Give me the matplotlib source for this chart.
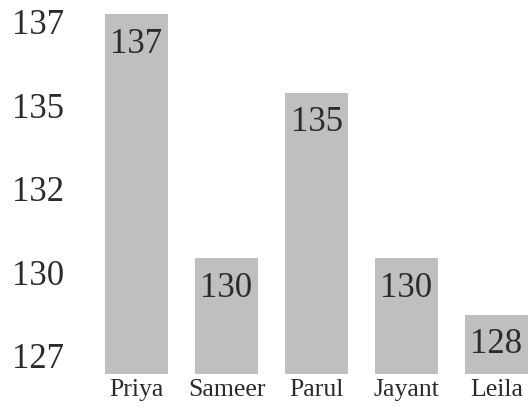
import matplotlib
matplotlib.use('Agg')
from matplotlib import pyplot as plt

names = ['Priya', 'Sameer', 'Parul', 'Jayant', 'Leila']
scores = [137.7, 130.4, 135.35, 130.4, 128.7]
bar_labels = ['137', '130', '135', '130', '128']
y_ticks = [127.5, 130, 132.5, 135, 137.5]
y_tick_labels = ['127', '130', '132', '135', '137']

plt.rcParams['font.family'] = ['Liberation Serif', 'DejaVu Serif']

W, H = 529, 410
fig = plt.figure(figsize=(W / 100, H / 100), dpi=100)
# axes placed in pixels: left edge 91.5, bottom 375 from the top
ax = fig.add_axes([91.5 / W, (H - 375) / H, (W - 91.5) / W, 370 / H])

x = list(range(len(names)))
ax.bar(x, scores, width=0.7, color='#bfbfc1')
ax.set_xlim(-0.5, (W - 91.5) / 90 - 0.5)
ax.set_ylim(126.93, 126.93 + 370 / 33.4)

for i in x:
    ax.annotate(bar_labels[i], (i, scores[i]), xytext=(0, -9), textcoords='offset points',
                ha='center', va='top', fontsize=25, color='#2b2b2b')

ax.set_yticks(y_ticks)
ax.set_yticklabels(y_tick_labels, fontsize=25, color='#2b2b2b')
ax.set_xticks(x)
ax.set_xticklabels(names, fontsize=18.5, color='#2b2b2b')
ax.tick_params(axis='y', length=0, pad=20)
ax.tick_params(axis='x', length=0, pad=3)
for s in ax.spines.values():
    s.set_visible(False)

fig.savefig('out.png', dpi=100)
